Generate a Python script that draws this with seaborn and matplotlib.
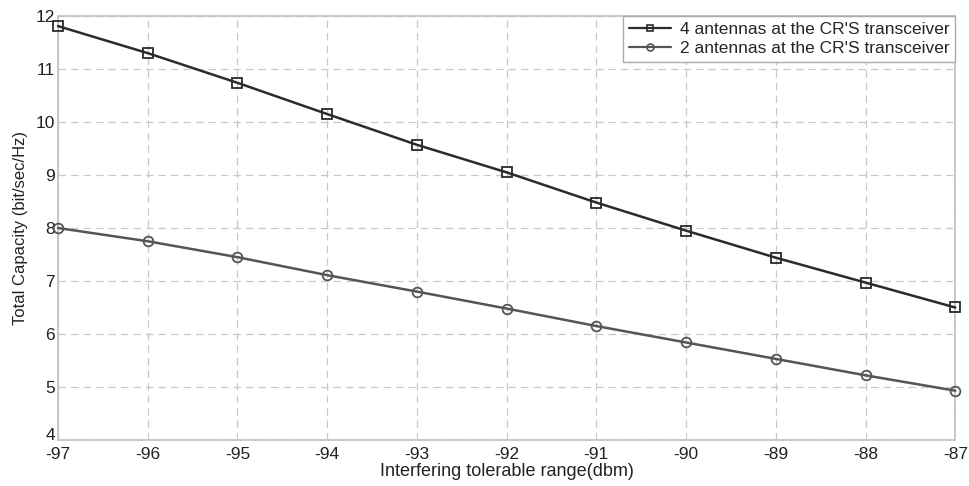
import numpy as np
import pandas as pd
import seaborn as sns
import matplotlib
matplotlib.use("Agg")
from matplotlib import pyplot as plt
from matplotlib.lines import Line2D
import matplotlib.transforms as mtrans

# values
x_dbm = [-97, -96, -95, -94, -93, -92, -91, -90, -89, -88, -87]
cap_4ant = [11.81, 11.30, 10.74, 10.15, 9.57, 9.05, 8.48, 7.95, 7.44, 6.97, 6.50]
cap_2ant = [8.00, 7.75, 7.45, 7.11, 6.80, 6.48, 6.15, 5.84, 5.53, 5.22, 4.93]
labels = ["4 antennas at the CR'S transceiver", "2 antennas at the CR'S transceiver"]
colors = ["#2b2b2b", "#555555"]

df = pd.DataFrame({"x": x_dbm * 2,
                   "y": cap_4ant + cap_2ant,
                   "series": [labels[0]] * len(x_dbm) + [labels[1]] * len(x_dbm)})

sns.set_theme(style="white")
plt.rcParams['font.family'] = ['Liberation Sans', 'DejaVu Sans']

fig = plt.figure(figsize=(9.7, 4.86), dpi=100)
ax = fig.add_axes([0.0598, 0.0947, 0.9250, 0.8723])

sns.lineplot(data=df, x="x", y="y", hue="series", style="series",
             palette=colors, markers=["s", "o"], dashes=False,
             markersize=7, markerfacecolor="none", markeredgewidth=1.3,
             linewidth=1.8, ax=ax, legend=False)
for ln, c in zip(ax.lines, colors):
    ln.set_markeredgecolor(c)
    ln.set_clip_on(False)
    ln.set_zorder(5)

ax.set_xlim(-97, -87)
ax.set_ylim(4, 12)
ax.set_xticks(x_dbm)
ax.set_xticklabels([str(v) for v in x_dbm])
ax.set_yticks(range(4, 13))
ax.grid(True, linestyle=(0, (6, 4)), color="#c8c8c8", linewidth=0.9)
for s in ax.spines.values():
    s.set_color("#c0c0c0")
    s.set_linewidth(1.2)
ax.tick_params(axis="both", labelsize=12.5, length=0, colors="#222222")
ax.tick_params(axis="x", pad=5)
ax.tick_params(axis="y", pad=2)
ax.set_xlabel("Interfering tolerable range(dbm)", fontsize=13, labelpad=1, color="#222222")
ax.set_ylabel("Total Capacity (bit/sec/Hz)", fontsize=12, labelpad=6, color="#222222")

# lift the bottom y label a little so it sits just above "-97"
lbl4 = ax.get_yticklabels()[0]
lbl4.set_transform(lbl4.get_transform() + mtrans.ScaledTranslation(0, 4 / 72, fig.dpi_scale_trans))

handles = [Line2D([], [], color=c, marker=m, markersize=5, markerfacecolor="none",
                  markeredgewidth=1.2, linewidth=1.6)
           for c, m in zip(colors, ["s", "o"])]
leg = ax.legend(handles, labels, loc="upper right", fontsize=12.5, fancybox=False,
                framealpha=1, borderaxespad=0, handlelength=2.4, handletextpad=0.5,
                borderpad=0.35, labelspacing=0.2)
leg.get_frame().set_edgecolor("#aaaaaa")
leg.get_frame().set_linewidth(1.0)
leg.set_zorder(10)

fig.savefig("out.png", dpi=100)
